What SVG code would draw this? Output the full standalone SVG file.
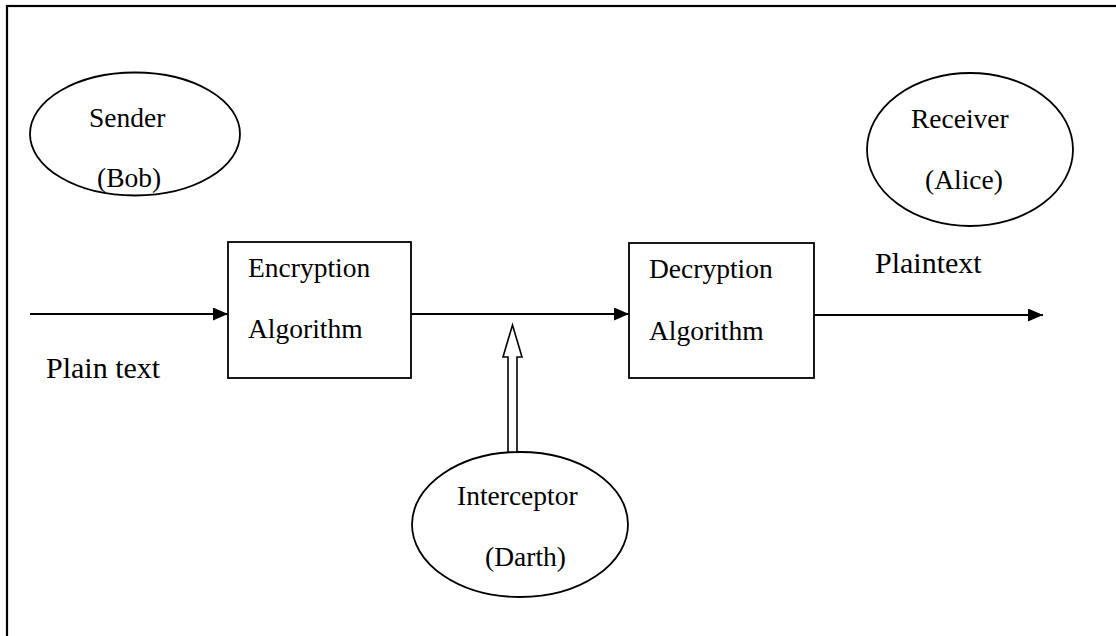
<svg xmlns="http://www.w3.org/2000/svg" width="1116" height="636" viewBox="0 0 1116 636">
<style>
.sh{fill:#fff;stroke:#000;stroke-width:1.8}
.t{font-family:"Liberation Serif","Times New Roman",serif;font-size:27.5px;fill:#000}
.tl{font-family:"Liberation Serif","Times New Roman",serif;font-size:30px;fill:#000}
.ln{stroke:#000;stroke-width:2;fill:none}
</style>
<defs>
<marker id="ah" markerUnits="userSpaceOnUse" markerWidth="16" markerHeight="14" refX="15" refY="6.5" orient="auto">
<path d="M0,0 L15,6.5 L0,13 Z" fill="#000"/>
</marker>
</defs>
<rect x="7" y="6" width="1300" height="800" fill="#fff" stroke="#000" stroke-width="2.2"/>
<g id="sender">
<ellipse class="sh" cx="135" cy="134" rx="105" ry="61.5"/>
<text class="t" x="89" y="127">Sender</text>
<text class="t" x="97" y="187">(Bob)</text>
</g>
<g id="receiver">
<ellipse class="sh" cx="970" cy="149.5" rx="103" ry="76.5"/>
<text class="t" x="911" y="128">Receiver</text>
<text class="t" x="925" y="189">(Alice)</text>
</g>
<g id="encryption">
<rect class="sh" x="228" y="242" width="183" height="136"/>
<text class="t" x="248" y="277">Encryption</text>
<text class="t" x="248" y="338">Algorithm</text>
</g>
<g id="decryption">
<rect class="sh" x="629" y="243" width="185" height="135"/>
<text class="t" x="649" y="278">Decryption</text>
<text class="t" x="649" y="340">Algorithm</text>
</g>
<g id="interceptor">
<ellipse class="sh" cx="520" cy="524.5" rx="108" ry="72.5"/>
<text class="t" x="457" y="505">Interceptor</text>
<text class="t" x="485" y="566">(Darth)</text>
</g>
<g id="connectors">
<line class="ln" x1="30" y1="314" x2="228" y2="314" marker-end="url(#ah)"/>
<line class="ln" x1="411" y1="314" x2="629" y2="314" marker-end="url(#ah)"/>
<line class="ln" x1="814" y1="315" x2="1043" y2="315" marker-end="url(#ah)"/>
<polygon points="508,452 508,357 503,357 512.5,325 522,357 517,357 517,452" fill="#fff" stroke="#000" stroke-width="1.6" stroke-linejoin="miter"/>
</g>
<g id="labels">
<text class="tl" x="46" y="378">Plain text</text>
<text class="tl" x="875" y="273">Plaintext</text>
</g>
</svg>
